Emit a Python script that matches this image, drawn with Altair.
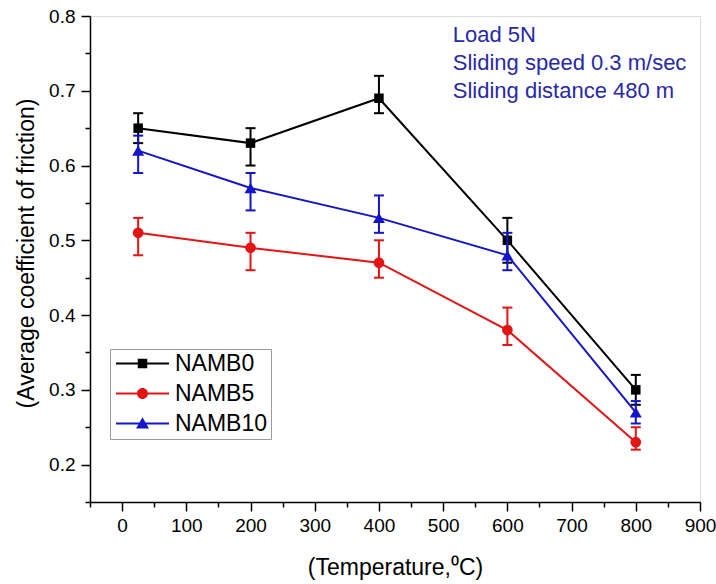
import altair as alt
import pandas as pd

# ---------------- data ----------------
temps = [25, 200, 400, 600, 800]
series_names = ["NAMB0", "NAMB5", "NAMB10"]

namb0 = [0.65, 0.63, 0.69, 0.50, 0.30]
namb0_lo = [0.63, 0.60, 0.67, 0.47, 0.28]
namb0_hi = [0.67, 0.65, 0.72, 0.53, 0.32]

namb5 = [0.51, 0.49, 0.47, 0.38, 0.23]
namb5_lo = [0.48, 0.46, 0.45, 0.36, 0.22]
namb5_hi = [0.53, 0.51, 0.50, 0.41, 0.25]

namb10 = [0.62, 0.57, 0.53, 0.48, 0.27]
namb10_lo = [0.59, 0.54, 0.51, 0.46, 0.255]
namb10_hi = [0.64, 0.59, 0.56, 0.51, 0.285]

x_major = [0, 100, 200, 300, 400, 500, 600, 700, 800, 900]
x_minor = [-50, 50, 150, 250, 350, 450, 550, 650, 750, 850]
y_major = [0.2, 0.3, 0.4, 0.5, 0.6, 0.7, 0.8]
y_minor = [0.15, 0.25, 0.35, 0.45, 0.55, 0.65, 0.75]

notes = ["Load 5N", "Sliding speed 0.3 m/sec", "Sliding distance 480 m"]

# ---------------- table ----------------
rows = []
for name, vals, lo, hi in zip(series_names, [namb0, namb5, namb10],
                              [namb0_lo, namb5_lo, namb10_lo],
                              [namb0_hi, namb5_hi, namb10_hi]):
    for t, v, l, h in zip(temps, vals, lo, hi):
        rows.append({"series": name, "temp": t, "cof": v, "lo": l, "hi": h})
df = pd.DataFrame(rows)

# ---------------- styles ----------------
FONT = "Liberation Sans"
colors = ["#000000", "#e31414", "#1414c8"]
shapes = ["square", "circle", "triangle-up"]
sizes = [90, 115, 144]
note_color = "#2828aa"

# legend symbols: line with marker (unit = sqrt(size)/2 = 5 px)
legend_paths = [
    "M-5.3,-0.2H5.3V0.2H-5.3Z M-0.95,-0.95H0.95V0.95H-0.95Z",
    "M-5.3,-0.2H5.3V0.2H-5.3Z M1.1,0A1.1,1.1 0 1,1 -1.1,0A1.1,1.1 0 1,1 1.1,0Z",
    "M-5.3,-0.2H5.3V0.2H-5.3Z M0,-1.25L1.3,1.0L-1.3,1.0Z",
]

xs = alt.Scale(domain=[-50, 900], nice=False, zero=False)
ys = alt.Scale(domain=[0.15, 0.8], nice=False, zero=False)

base = alt.Chart(df)

common_axis = dict(
    grid=False, domainColor="black", domainWidth=1.5, tickColor="black",
    tickWidth=1.5, labelFont=FONT, labelColor="black", labelFlush=False,
    labelOverlap=False, titleFont=FONT, titleColor="black",
    titleFontWeight="normal",
)

x_axis_main = alt.Axis(orient="bottom", values=x_major, tickSize=9, labelFontSize=19,
                       labelPadding=5, title="(Temperature,\u2070C)", titleFontSize=23,
                       titlePadding=21, **common_axis)
y_axis_main = alt.Axis(orient="left", values=y_major, format=".1f", tickSize=9,
                       labelFontSize=19, labelPadding=6,
                       title="(Average coefficient of friction)", titleFontSize=23,
                       titlePadding=10, titleY=237, **common_axis)
x_axis_minor = alt.Axis(orient="bottom", values=x_minor, tickSize=5, labels=False,
                        domain=False, grid=False, tickColor="black", tickWidth=1.5)
y_axis_minor = alt.Axis(orient="left", values=y_minor, tickSize=5, labels=False,
                        domain=False, grid=False, tickColor="black", tickWidth=1.5)

axes_layer = base.mark_point(opacity=0).encode(
    x=alt.X("temp:Q", scale=xs, axis=x_axis_main),
    y=alt.Y("cof:Q", scale=ys, axis=y_axis_main),
)
minor_layer = base.mark_point(opacity=0).encode(
    x=alt.X("temp:Q", scale=xs, axis=x_axis_minor, title=None),
    y=alt.Y("cof:Q", scale=ys, axis=y_axis_minor, title=None),
)

layers = [axes_layer, minor_layer]
X = alt.X("temp:Q", scale=xs, axis=None)
for name, col, shp, sz in zip(series_names, colors, shapes, sizes):
    b = base.transform_filter(alt.datum.series == name)
    err = b.mark_rule(color=col, strokeWidth=2).encode(
        x=X, y=alt.Y("lo:Q", scale=ys, axis=None), y2="hi:Q")
    cap_lo = b.mark_tick(color=col, orient="horizontal", size=10, thickness=2,
                         opacity=1).encode(x=X, y=alt.Y("lo:Q", scale=ys, axis=None))
    cap_hi = b.mark_tick(color=col, orient="horizontal", size=10, thickness=2,
                         opacity=1).encode(x=X, y=alt.Y("hi:Q", scale=ys, axis=None))
    line = b.mark_line(color=col, strokeWidth=2).encode(
        x=X, y=alt.Y("cof:Q", scale=ys, axis=None))
    pts = b.mark_point(filled=True, shape=shp, size=sz, color=col, opacity=1,
                       strokeWidth=0).encode(x=X, y=alt.Y("cof:Q", scale=ys, axis=None))
    layers += [err, cap_lo, cap_hi, line, pts]

leg = alt.Legend(
    title=None, orient="none", legendX=20, legendY=333, padding=3,
    strokeColor="#9a9a9a", labelFont=FONT, labelFontSize=23, labelColor="black",
    symbolSize=100, symbolOffset=18, labelOffset=21, rowPadding=6,
    symbolStrokeWidth=0,
)
legend_layer = base.transform_filter("false").mark_point(filled=True, opacity=1).encode(
    x=X, y=alt.Y("cof:Q", scale=ys, axis=None),
    color=alt.Color("series:N", scale=alt.Scale(domain=series_names, range=colors), legend=leg),
    shape=alt.Shape("series:N", scale=alt.Scale(domain=series_names, range=legend_paths), legend=leg),
)
layers.append(legend_layer)

note_layer = alt.Chart(pd.DataFrame({"k": [0]})).mark_text(
    align="left", baseline="alphabetic", font=FONT, fontSize=22, lineHeight=28,
    color=note_color,
).encode(
    x=alt.datum(515, scale=xs, axis=None),
    y=alt.datum(0.7656, scale=ys, axis=None),
    text=alt.value(notes),
)
layers.append(note_layer)

chart = alt.layer(*layers).resolve_axis(x="independent", y="independent").properties(
    width=610, height=486,
    padding={"left": 90, "top": 16, "right": 16, "bottom": 82},
    autosize="none",
).configure_view(stroke="black", strokeWidth=1.5).configure(font=FONT)

chart.save("out.html", embed_options={"renderer": "svg", "actions": False})
